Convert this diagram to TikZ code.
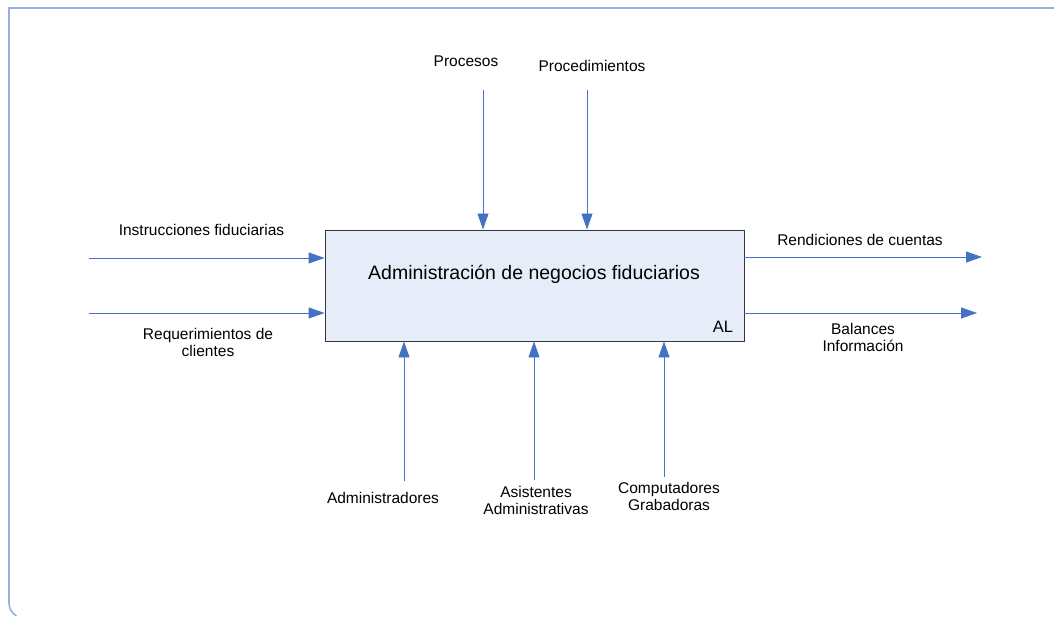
\documentclass[tikz,border=0pt]{standalone}
\usepackage{fontspec}
\setmainfont{Liberation Sans}
\usetikzlibrary{arrows.meta}
\definecolor{frameblue}{RGB}{150,176,222}
\definecolor{arrowblue}{RGB}{70,114,196}
\definecolor{boxfill}{RGB}{231,237,248}
\definecolor{boxline}{RGB}{55,55,55}
\tikzset{
  arr/.style={draw=arrowblue, line width=0.9pt, -{Triangle[length=16pt,width=11pt]}},
  lbl/.style={font=\fontsize{15.5}{17}\selectfont, align=center, inner sep=0pt, anchor=base},
  mainbox/.style={draw=boxline, fill=boxfill, line width=0.9pt, minimum width=419pt, minimum height=111pt, inner sep=0pt}
}
\begin{document}
\begin{tikzpicture}[x=1pt,y=-1pt]
\useasboundingbox (0,0) rectangle (1054,617);
% frame
\draw[frameblue, line width=1.6pt] (1060,8) -- (9,8) -- (9,603) arc[start angle=180, end angle=120, radius=15];
% main box
\node[mainbox] (box) at (534.5,285.5) {};
\node[lbl, font=\fontsize{19.5}{22}\selectfont] (title) at (534,280) {Administración de negocios fiduciarios};
\node[lbl, font=\fontsize{16.5}{19}\selectfont] (al) at (723,332) {AL};
% coordinates
\coordinate (i1) at (89,258);
\coordinate (i2) at (89,313);
\coordinate (o1) at (982,257);
\coordinate (o2) at (977,313);
\coordinate (c1) at (483,90);
\coordinate (c2) at (587,90);
\coordinate (m1) at (404,481);
\coordinate (m2) at (534,480);
\coordinate (m3) at (664,477);
% arrows
\draw[arr] (i1) -- (box.west |- i1);
\draw[arr] (i2) -- (box.west |- i2);
\draw[arr] (box.east |- o1) -- (o1);
\draw[arr] (box.east |- o2) -- (o2);
\draw[arr] (c1) -- (box.north -| c1);
\draw[arr] (c2) -- (box.north -| c2);
\draw[arr] (m1) -- (box.south -| m1);
\draw[arr] (m2) -- (box.south -| m2);
\draw[arr] (m3) -- (box.south -| m3);
% labels
\node[lbl] (lproc) at (466,67) {Procesos};
\node[lbl] (lprocd) at (592,72) {Procedimientos};
\node[lbl] (linst) at (201.5,236) {Instrucciones fiduciarias};
\node[lbl] (lreq) at (208,356) {Requerimientos de\\clientes};
\node[lbl] (lrend) at (860,246) {Rendiciones de cuentas};
\node[lbl] (lbal) at (863,351) {Balances\\Información};
\node[lbl] (ladm) at (383,503) {Administradores};
\node[lbl] (lasis) at (536,514) {Asistentes\\Administrativas};
\node[lbl] (lcomp) at (669,510) {Computadores\\Grabadoras};
\end{tikzpicture}
\end{document}
